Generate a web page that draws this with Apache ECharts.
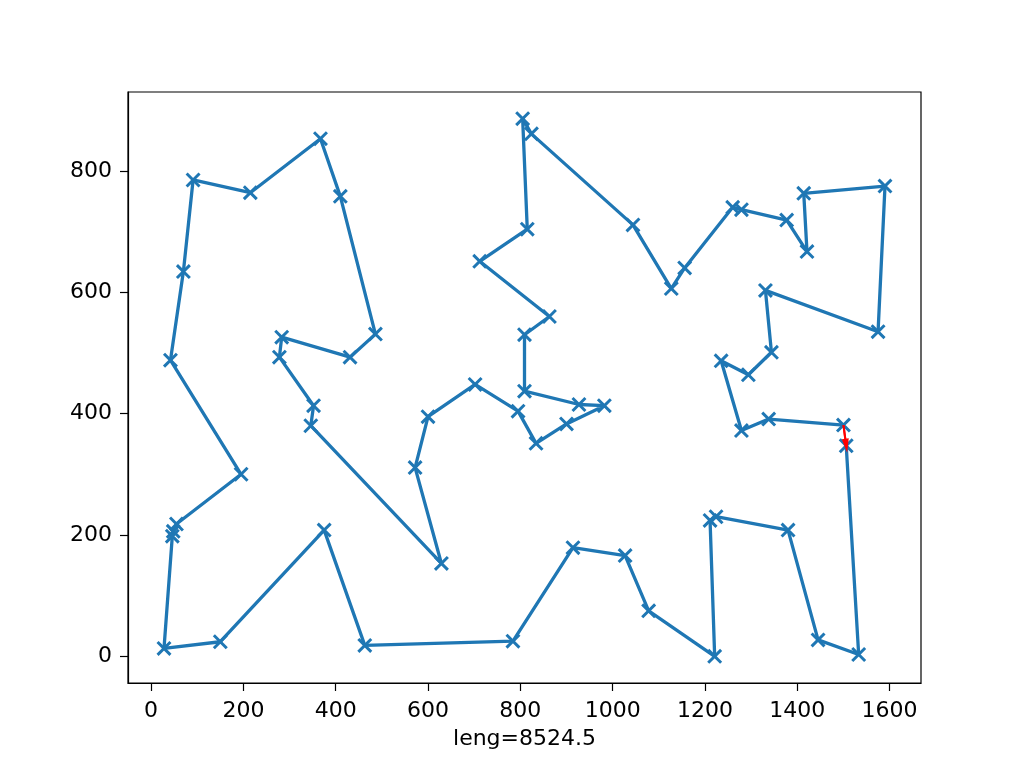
<!DOCTYPE html>
<html>
<head>
<meta charset="utf-8">
<script src="https://cdn.jsdelivr.net/npm/echarts@6/dist/echarts.min.js"></script>
<style>
html,body{margin:0;padding:0;background:#fff;}
#c{width:1024px;height:768px;}
</style>
</head>
<body>
<div id="c"></div>
<script>
// Tour order (x, y)
const tourX = [1506,1533,1445,1380,1224,1211,1221,1078,1027,914,784,463,375,150,28,46,48,55,195,42,70,91,215,367,410,486,431,283,278,352,346,629,572,600,702,795,834,900,982,927,809,809,863,712,815,805,824,1044,1127,1156,1260,1279,1377,1421,1414,1590,1575,1331,1344,1294,1235,1279,1338,1500];
const tourY = [347,3,27,208,230,224,0,75,166,179,25,18,208,24,13,198,206,218,300,488,634,785,764,853,758,531,493,526,493,413,380,153,311,395,448,404,351,383,413,415,437,530,560,651,704,886,861,711,606,640,740,736,719,667,763,775,535,603,501,464,487,372,391,381];
const xTicks = [0,200,400,600,800,1000,1200,1400,1600];
const yTicks = [0,200,400,600,800];
const xLabel = 'leng=8524.5';

const pts = tourX.map((x,i)=>[x,tourY[i]]);
const first = pts[0], last = pts[pts.length-1];
const blue = '#1f77b4';
const xSym = 'path://M0,1.4L1.4,0L10,8.6L8.6,10Z M8.6,0L10,1.4L1.4,10L0,8.6Z';
const font = 'DejaVu Sans';
const fmt = v => String(v);

const chart = echarts.init(document.getElementById('c'), null, {renderer:'canvas'});
chart.setOption({
  animation:false,
  backgroundColor:'#fff',
  grid:{left:128,right:103,top:92,bottom:85,show:true,borderColor:'#000',borderWidth:1.2,backgroundColor:'transparent'},
  xAxis:{
    type:'value',min:-50,max:1668,
    name:xLabel,nameLocation:'middle',nameGap:45,
    nameTextStyle:{fontFamily:font,fontSize:22,color:'#000'},
    axisLine:{show:true,onZero:false,lineStyle:{color:'#000',width:1.2}},
    axisTick:{show:true,length:8,lineStyle:{color:'#000',width:1.2},customValues:xTicks},
    axisLabel:{fontFamily:font,fontSize:22,color:'#000',margin:17,customValues:xTicks,formatter:fmt},
    splitLine:{show:false}
  },
  yAxis:{
    type:'value',min:-44,max:930,
    axisLine:{show:true,onZero:false,lineStyle:{color:'#000',width:1.2}},
    axisTick:{show:true,length:8,lineStyle:{color:'#000',width:1.2},customValues:yTicks},
    axisLabel:{fontFamily:font,fontSize:22,color:'#000',margin:16,customValues:yTicks,formatter:fmt},
    splitLine:{show:false}
  },
  series:[
    {
      type:'line',data:pts,
      symbol:xSym,symbolSize:15,
      showAllSymbol:true,
      lineStyle:{color:blue,width:3.3},
      itemStyle:{color:blue},
      z:2
    },
    {
      type:'line',data:[last,first],
      symbol:'none',
      lineStyle:{color:'red',width:2},
      z:3,
      markLine:{
        silent:true,animation:false,
        symbol:['none','triangle'],symbolSize:[7,14],
        lineStyle:{color:'red',width:2,type:'solid'},
        label:{show:false},
        data:[[{coord:last},{coord:first}]]
      }
    }
  ]
});
</script>
</body>
</html>
